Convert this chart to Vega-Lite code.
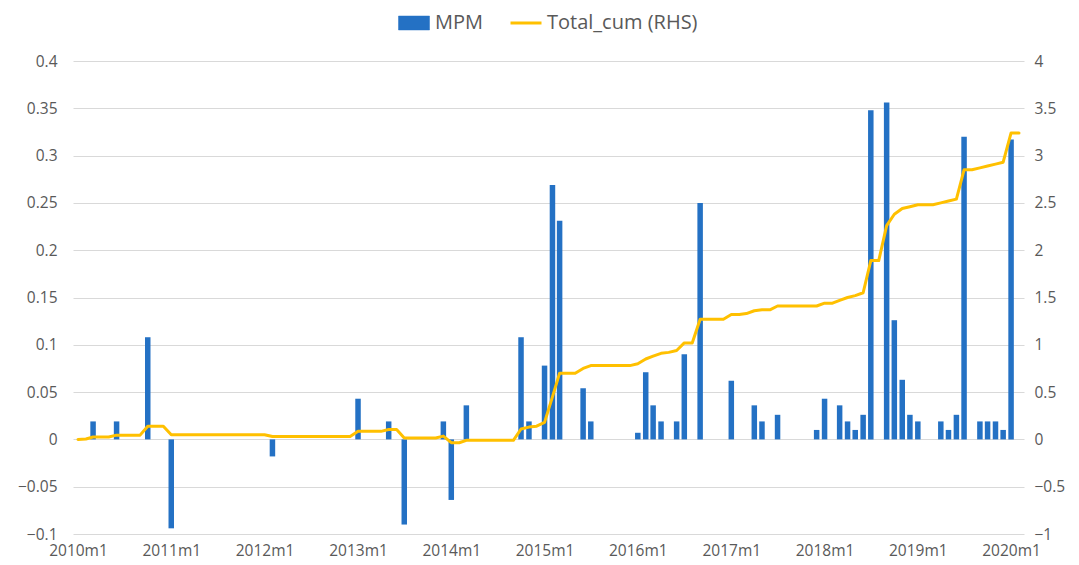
{
  "$schema": "https://vega.github.io/schema/vega-lite/v6.json",
  "width": 951,
  "height": 473,
  "autosize": {"type": "none"},
  "padding": {"left": 73, "top": 61, "right": 55, "bottom": 31},
  "background": "white",
  "config": {
    "view": {"stroke": null},
    "font": "Open Sans",
    "axis": {"labelFont": "Open Sans", "labelFontSize": 15.5, "labelColor": "#595959", "domain": false, "ticks": false}
  },
  "data": {"values": [
    {"date": "2010-01-01", "MPM": null, "Total_cum": 0},
    {"date": "2010-02-01", "MPM": null, "Total_cum": 0.005},
    {"date": "2010-03-01", "MPM": 0.019, "Total_cum": 0.025},
    {"date": "2010-04-01", "MPM": null, "Total_cum": 0.025},
    {"date": "2010-05-01", "MPM": null, "Total_cum": 0.025},
    {"date": "2010-06-01", "MPM": 0.019, "Total_cum": 0.045},
    {"date": "2010-07-01", "MPM": null, "Total_cum": 0.045},
    {"date": "2010-08-01", "MPM": null, "Total_cum": 0.045},
    {"date": "2010-09-01", "MPM": null, "Total_cum": 0.045},
    {"date": "2010-10-01", "MPM": 0.108, "Total_cum": 0.14},
    {"date": "2010-11-01", "MPM": null, "Total_cum": 0.14},
    {"date": "2010-12-01", "MPM": null, "Total_cum": 0.14},
    {"date": "2011-01-01", "MPM": -0.094, "Total_cum": 0.05},
    {"date": "2011-02-01", "MPM": null, "Total_cum": 0.05},
    {"date": "2011-03-01", "MPM": null, "Total_cum": 0.05},
    {"date": "2011-04-01", "MPM": null, "Total_cum": 0.05},
    {"date": "2011-05-01", "MPM": null, "Total_cum": 0.05},
    {"date": "2011-06-01", "MPM": null, "Total_cum": 0.05},
    {"date": "2011-07-01", "MPM": null, "Total_cum": 0.05},
    {"date": "2011-08-01", "MPM": null, "Total_cum": 0.05},
    {"date": "2011-09-01", "MPM": null, "Total_cum": 0.05},
    {"date": "2011-10-01", "MPM": null, "Total_cum": 0.05},
    {"date": "2011-11-01", "MPM": null, "Total_cum": 0.05},
    {"date": "2011-12-01", "MPM": null, "Total_cum": 0.05},
    {"date": "2012-01-01", "MPM": null, "Total_cum": 0.05},
    {"date": "2012-02-01", "MPM": -0.018, "Total_cum": 0.03},
    {"date": "2012-03-01", "MPM": null, "Total_cum": 0.03},
    {"date": "2012-04-01", "MPM": null, "Total_cum": 0.03},
    {"date": "2012-05-01", "MPM": null, "Total_cum": 0.03},
    {"date": "2012-06-01", "MPM": null, "Total_cum": 0.03},
    {"date": "2012-07-01", "MPM": null, "Total_cum": 0.03},
    {"date": "2012-08-01", "MPM": null, "Total_cum": 0.03},
    {"date": "2012-09-01", "MPM": null, "Total_cum": 0.03},
    {"date": "2012-10-01", "MPM": null, "Total_cum": 0.03},
    {"date": "2012-11-01", "MPM": null, "Total_cum": 0.03},
    {"date": "2012-12-01", "MPM": null, "Total_cum": 0.03},
    {"date": "2013-01-01", "MPM": 0.043, "Total_cum": 0.085},
    {"date": "2013-02-01", "MPM": null, "Total_cum": 0.085},
    {"date": "2013-03-01", "MPM": null, "Total_cum": 0.085},
    {"date": "2013-04-01", "MPM": null, "Total_cum": 0.085},
    {"date": "2013-05-01", "MPM": 0.019, "Total_cum": 0.105},
    {"date": "2013-06-01", "MPM": null, "Total_cum": 0.105},
    {"date": "2013-07-01", "MPM": -0.09, "Total_cum": 0.015},
    {"date": "2013-08-01", "MPM": null, "Total_cum": 0.015},
    {"date": "2013-09-01", "MPM": null, "Total_cum": 0.015},
    {"date": "2013-10-01", "MPM": null, "Total_cum": 0.015},
    {"date": "2013-11-01", "MPM": null, "Total_cum": 0.015},
    {"date": "2013-12-01", "MPM": 0.019, "Total_cum": 0.035},
    {"date": "2014-01-01", "MPM": -0.064, "Total_cum": -0.035},
    {"date": "2014-02-01", "MPM": null, "Total_cum": -0.035},
    {"date": "2014-03-01", "MPM": 0.036, "Total_cum": -0.01},
    {"date": "2014-04-01", "MPM": null, "Total_cum": -0.01},
    {"date": "2014-05-01", "MPM": null, "Total_cum": -0.01},
    {"date": "2014-06-01", "MPM": null, "Total_cum": -0.01},
    {"date": "2014-07-01", "MPM": null, "Total_cum": -0.01},
    {"date": "2014-08-01", "MPM": null, "Total_cum": -0.01},
    {"date": "2014-09-01", "MPM": null, "Total_cum": -0.01},
    {"date": "2014-10-01", "MPM": 0.108, "Total_cum": 0.11},
    {"date": "2014-11-01", "MPM": 0.019, "Total_cum": 0.13},
    {"date": "2014-12-01", "MPM": null, "Total_cum": 0.14},
    {"date": "2015-01-01", "MPM": 0.078, "Total_cum": 0.18},
    {"date": "2015-02-01", "MPM": 0.269, "Total_cum": 0.45},
    {"date": "2015-03-01", "MPM": 0.231, "Total_cum": 0.7},
    {"date": "2015-04-01", "MPM": null, "Total_cum": 0.7},
    {"date": "2015-05-01", "MPM": null, "Total_cum": 0.7},
    {"date": "2015-06-01", "MPM": 0.054, "Total_cum": 0.75},
    {"date": "2015-07-01", "MPM": 0.019, "Total_cum": 0.78},
    {"date": "2015-08-01", "MPM": null, "Total_cum": 0.78},
    {"date": "2015-09-01", "MPM": null, "Total_cum": 0.78},
    {"date": "2015-10-01", "MPM": null, "Total_cum": 0.78},
    {"date": "2015-11-01", "MPM": null, "Total_cum": 0.78},
    {"date": "2015-12-01", "MPM": null, "Total_cum": 0.78},
    {"date": "2016-01-01", "MPM": 0.007, "Total_cum": 0.8},
    {"date": "2016-02-01", "MPM": 0.071, "Total_cum": 0.85},
    {"date": "2016-03-01", "MPM": 0.036, "Total_cum": 0.88},
    {"date": "2016-04-01", "MPM": 0.019, "Total_cum": 0.91},
    {"date": "2016-05-01", "MPM": null, "Total_cum": 0.92},
    {"date": "2016-06-01", "MPM": 0.019, "Total_cum": 0.94},
    {"date": "2016-07-01", "MPM": 0.09, "Total_cum": 1.02},
    {"date": "2016-08-01", "MPM": null, "Total_cum": 1.02},
    {"date": "2016-09-01", "MPM": 0.25, "Total_cum": 1.27},
    {"date": "2016-10-01", "MPM": null, "Total_cum": 1.27},
    {"date": "2016-11-01", "MPM": null, "Total_cum": 1.27},
    {"date": "2016-12-01", "MPM": null, "Total_cum": 1.27},
    {"date": "2017-01-01", "MPM": 0.062, "Total_cum": 1.32},
    {"date": "2017-02-01", "MPM": null, "Total_cum": 1.32},
    {"date": "2017-03-01", "MPM": null, "Total_cum": 1.33},
    {"date": "2017-04-01", "MPM": 0.036, "Total_cum": 1.36},
    {"date": "2017-05-01", "MPM": 0.019, "Total_cum": 1.37},
    {"date": "2017-06-01", "MPM": null, "Total_cum": 1.37},
    {"date": "2017-07-01", "MPM": 0.026, "Total_cum": 1.41},
    {"date": "2017-08-01", "MPM": null, "Total_cum": 1.41},
    {"date": "2017-09-01", "MPM": null, "Total_cum": 1.41},
    {"date": "2017-10-01", "MPM": null, "Total_cum": 1.41},
    {"date": "2017-11-01", "MPM": null, "Total_cum": 1.41},
    {"date": "2017-12-01", "MPM": 0.01, "Total_cum": 1.41},
    {"date": "2018-01-01", "MPM": 0.043, "Total_cum": 1.44},
    {"date": "2018-02-01", "MPM": null, "Total_cum": 1.44},
    {"date": "2018-03-01", "MPM": 0.036, "Total_cum": 1.47},
    {"date": "2018-04-01", "MPM": 0.019, "Total_cum": 1.5},
    {"date": "2018-05-01", "MPM": 0.01, "Total_cum": 1.52},
    {"date": "2018-06-01", "MPM": 0.026, "Total_cum": 1.55},
    {"date": "2018-07-01", "MPM": 0.348, "Total_cum": 1.89},
    {"date": "2018-08-01", "MPM": null, "Total_cum": 1.89},
    {"date": "2018-09-01", "MPM": 0.356, "Total_cum": 2.26},
    {"date": "2018-10-01", "MPM": 0.126, "Total_cum": 2.38},
    {"date": "2018-11-01", "MPM": 0.063, "Total_cum": 2.44},
    {"date": "2018-12-01", "MPM": 0.026, "Total_cum": 2.46},
    {"date": "2019-01-01", "MPM": 0.019, "Total_cum": 2.48},
    {"date": "2019-02-01", "MPM": null, "Total_cum": 2.48},
    {"date": "2019-03-01", "MPM": null, "Total_cum": 2.48},
    {"date": "2019-04-01", "MPM": 0.019, "Total_cum": 2.5},
    {"date": "2019-05-01", "MPM": 0.01, "Total_cum": 2.52},
    {"date": "2019-06-01", "MPM": 0.026, "Total_cum": 2.54},
    {"date": "2019-07-01", "MPM": 0.32, "Total_cum": 2.85},
    {"date": "2019-08-01", "MPM": null, "Total_cum": 2.85},
    {"date": "2019-09-01", "MPM": 0.019, "Total_cum": 2.87},
    {"date": "2019-10-01", "MPM": 0.019, "Total_cum": 2.89},
    {"date": "2019-11-01", "MPM": 0.019, "Total_cum": 2.91},
    {"date": "2019-12-01", "MPM": 0.01, "Total_cum": 2.93},
    {"date": "2020-01-01", "MPM": 0.317, "Total_cum": 3.24},
    {"date": "2020-02-01", "MPM": null, "Total_cum": 3.24}
  ]},
  "encoding": {
    "x": {
      "field": "date",
      "type": "temporal",
      "title": null,
      "scale": {
        "type": "utc",
        "domain": [
          {"year": 2010, "month": 1, "date": 1, "utc": true},
          {"year": 2020, "month": 2, "date": 1, "utc": true}
        ]
      },
      "axis": {
        "values": [
          {"year": 2010, "month": 1, "date": 1, "utc": true},
          {"year": 2011, "month": 1, "date": 1, "utc": true},
          {"year": 2012, "month": 1, "date": 1, "utc": true},
          {"year": 2013, "month": 1, "date": 1, "utc": true},
          {"year": 2014, "month": 1, "date": 1, "utc": true},
          {"year": 2015, "month": 1, "date": 1, "utc": true},
          {"year": 2016, "month": 1, "date": 1, "utc": true},
          {"year": 2017, "month": 1, "date": 1, "utc": true},
          {"year": 2018, "month": 1, "date": 1, "utc": true},
          {"year": 2019, "month": 1, "date": 1, "utc": true},
          {"year": 2020, "month": 1, "date": 1, "utc": true}
        ],
        "labelExpr": "utcFormat(datum.value, '%Y') + 'm1'",
        "grid": false,
        "labelPadding": 9,
        "labelFlush": false,
        "labelOverlap": false
      }
    }
  },
  "layer": [
    {
      "mark": {"type": "bar", "size": 5.5},
      "encoding": {
        "y": {
          "field": "MPM",
          "type": "quantitative",
          "title": null,
          "scale": {"domain": [-0.1, 0.4], "nice": false, "zero": false},
          "axis": {
            "values": [-0.1, -0.05, 0, 0.05, 0.1, 0.15, 0.2, 0.25, 0.3, 0.35, 0.4],
            "format": "~g",
            "grid": true,
            "gridColor": "#D9D9D9",
            "gridWidth": 1,
            "labelPadding": 16
          }
        },
        "color": {
          "datum": "MPM",
          "type": "nominal",
          "scale": {"domain": ["MPM", "Total_cum (RHS)"], "range": ["#2471C4", "#FFC000"]},
          "legend": {
            "title": null,
            "orient": "none",
            "legendX": 331,
            "legendY": -48,
            "direction": "horizontal",
            "labelFont": "Open Sans",
            "labelFontSize": 20,
            "labelColor": "#595959",
            "labelOffset": 11,
            "columnPadding": 20,
            "symbolSize": 961,
            "encode": {
              "symbols": {
                "update": {
                  "shape": {"signal": "datum.value === 'MPM' ? 'M-1,-0.45H1V0.45H-1Z' : 'stroke'"},
                  "fill": {"signal": "datum.value === 'MPM' ? '#4472C4' : 'transparent'"},
                  "stroke": {"signal": "datum.value === 'MPM' ? '#2F5597' : '#FFC000'"},
                  "strokeWidth": {"signal": "datum.value === 'MPM' ? 0.5 : 3"},
                  "opacity": {"value": 1}
                }
              }
            }
          }
        }
      }
    },
    {
      "mark": {"type": "line", "strokeWidth": 3, "strokeJoin": "round", "strokeCap": "round"},
      "encoding": {
        "y": {
          "field": "Total_cum",
          "type": "quantitative",
          "title": null,
          "scale": {"domain": [-1, 4], "nice": false, "zero": false},
          "axis": {
            "orient": "right",
            "values": [-1, -0.5, 0, 0.5, 1, 1.5, 2, 2.5, 3, 3.5, 4],
            "format": "~g",
            "grid": false,
            "labelPadding": 10
          }
        },
        "color": {"datum": "Total_cum (RHS)", "type": "nominal"}
      }
    }
  ],
  "resolve": {"scale": {"y": "independent"}}
}
